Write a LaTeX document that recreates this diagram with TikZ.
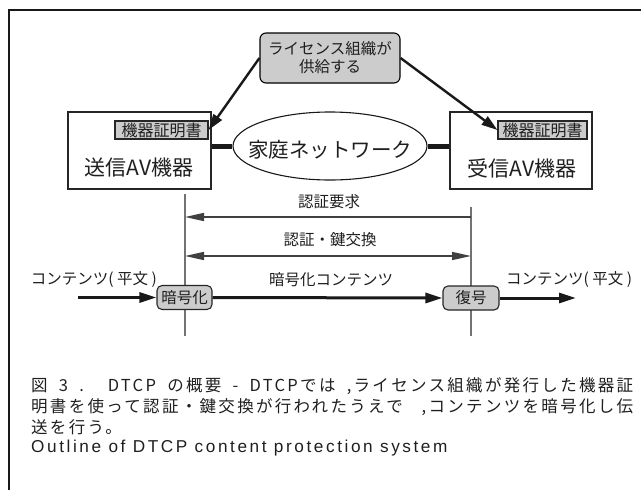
\documentclass[tikz,border=0pt]{standalone}
\usepackage{fontspec}
\setmainfont{Noto Sans CJK JP}
\newfontfamily\capfont[LetterSpace=14]{Noto Sans CJK JP}
\newfontfamily\latinfont[LetterSpace=15]{Liberation Sans}
\usetikzlibrary{arrows.meta,shapes.geometric}
\begin{document}
\begin{tikzpicture}[x=1pt,y=-1pt,
  txt/.style={inner sep=0pt, text=black!88},
  lbl/.style={txt, font=\fontsize{15.5}{18}\selectfont},
  caption/.style={txt, anchor=west, font=\capfont\fontsize{16.5}{20}\selectfont},
  licbox/.style={draw=black, line width=1.1pt, fill=black!20, rounded corners=6pt,
    minimum width=140pt, minimum height=50pt, inner sep=0pt, align=center,
    text=black!88, font=\fontsize{15.5}{18}\selectfont},
  devbox/.style={draw=black!85, line width=1.2pt, fill=white, inner sep=0pt},
  certbox/.style={draw=black!85, line width=1.1pt, fill=black!20, inner sep=0pt,
    minimum height=18pt, text=black!88, font=\fontsize{16}{18}\selectfont},
  procbox/.style={draw=black!85, line width=1.1pt, fill=black!20, rounded corners=5pt,
    inner sep=0pt, minimum height=24pt, text=black!88, font=\fontsize{15.5}{18}\selectfont},
  supply/.style={line width=2.4pt, black!90, -{Triangle[length=16pt,width=10pt]}},
  netlink/.style={line width=5pt, black!90},
  timeline/.style={line width=1.1pt, black!55},
  authline/.style={line width=1.5pt, black!75},
  authtip/.style={-{Triangle[length=19pt,width=8pt]}},
  flow/.style={line width=3pt, black!90, -{Triangle[length=17pt,width=10pt]}}
]
\useasboundingbox (0,0) rectangle (641,490);
% frame
\draw[line width=1.5pt, black!90] (9,490) -- (9,10) -- (641,10);

% license organisation
\node[licbox] (lic) at (330,58) {ライセンス組織が\\供給する};

% devices
\node[devbox, minimum width=143pt, minimum height=77pt] (devL) at (139.5,150.5) {};
\node[devbox, minimum width=142pt, minimum height=77pt] (devR) at (521,150.5) {};
\node[certbox, minimum width=93pt] (certL) at (161.5,130) {機器証明書};
\node[certbox, minimum width=89pt] (certR) at (542.5,130) {機器証明書};
\node[txt, font=\fontsize{21}{24}\selectfont] (nameL) at (139,168) {送信AV機器};
\node[txt, font=\fontsize{21}{24}\selectfont] (nameR) at (522,168) {受信AV機器};

% home network
\node[draw=black!90, line width=1.1pt, ellipse, minimum width=194pt, minimum height=68pt,
  inner sep=0pt, fill=white] (net) at (330,146) {};
\node[txt, font=\fontsize{20.5}{24}\selectfont] (netlbl) at (330,150) {家庭ネットワーク};
\draw[netlink] (devL.east |- net.west) -- (net.west);
\draw[netlink] (net.east) -- (devR.west |- net.east);

% supply arrows
\draw[supply] (lic.west) -- (certL.east);
\draw[supply] (lic.east) -- (certR.west);

% time lines
\coordinate (tLtop) at (185,194);
\coordinate (tLbot) at (185,336);
\coordinate (tRtop) at (471,207);
\coordinate (tRbot) at (471,336);
\draw[timeline] (tLtop) -- (tLbot);
\draw[timeline] (tRtop) -- (tRbot);

% authentication request
\coordinate (reqR) at (471,217);
\coordinate (reqL) at (185,217);
\draw[authline, authtip] (reqR) -- (reqL);
\node[lbl] (reqlbl) at (329,202) {認証要求};

% authentication / key exchange
\coordinate (keyL) at (185,256);
\coordinate (keyR) at (471,256);
\draw[authline, {Triangle[length=19pt,width=8pt]}-{Triangle[length=19pt,width=8pt]}] (keyL) -- (keyR);
\node[lbl] (keylbl) at (330,240) {認証・鍵交換};

% content flow
\node[procbox, minimum width=55pt] (enc) at (184.5,297.5) {暗号化};
\node[procbox, minimum width=56pt] (dec) at (471,298) {復号};
\coordinate (cin) at (78,297.5);
\coordinate (cout) at (576,298);
\draw[flow] (cin) -- (enc.west);
\draw[flow] (enc.east) -- (dec.west);
\draw[flow] (dec.east) -- (cout);
\node[lbl, anchor=east] (plainL) at (157,280) {コンテンツ( 平文 )};
\node[lbl] (enclbl) at (331,280) {暗号化コンテンツ};
\node[lbl, anchor=west] (plainR) at (506,280) {コンテンツ( 平文 )};

% caption
\node[caption] (cap1) at (31,386) {\makebox[602pt][s]{図 3 . DTCP の概要 - DTCPでは ,ライセンス組織が発行した機器証}};
\node[caption] (cap2) at (31,407) {\makebox[602pt][s]{明書を使って認証・鍵交換が行われたうえで ,コンテンツを暗号化し伝}};
\node[caption] (cap3) at (31,427) {送を行う。};
\node[txt, anchor=west, font=\latinfont\fontsize{17.2}{20}\selectfont] (cap4) at (31,448) {Outline of DTCP content protection system};
\end{tikzpicture}
\end{document}
